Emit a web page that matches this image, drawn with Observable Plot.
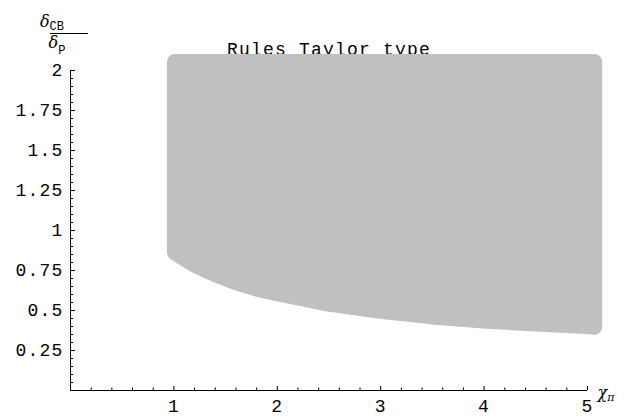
<!DOCTYPE html>
<html><head><meta charset="utf-8">
<script src="https://cdn.jsdelivr.net/npm/d3@7"></script>
<script src="https://cdn.jsdelivr.net/npm/@observablehq/plot@0.6"></script>
<style>body{margin:0;background:#fff}</style>
</head><body><div id="chart"></div>
<script>
const title = "Rules Taylor type";
const xMajor = [1, 2, 3, 4, 5];
const xLabels = ["1", "2", "3", "4", "5"];
const yMajor = [0.25, 0.5, 0.75, 1, 1.25, 1.5, 1.75, 2];
const yLabels = ["0.25", "0.5", "0.75", "1", "1.25", "1.5", "1.75", "2"];
const xMinor = d3.range(0.2, 5.0001, 0.2).filter(v => Math.abs(v - Math.round(v)) > 1e-6);
const yMinor = d3.range(0.05, 2.0001, 0.05).filter(v => Math.abs(v * 4 - Math.round(v * 4)) > 1e-6);

// feasible region (centre line of the rounded outline)
const regionX     = [1.015, 1.2, 1.4, 1.6, 1.8, 2.0, 2.5, 3.0, 3.5, 4.0, 4.5, 5.0, 5.07];
const regionLower = [0.86, 0.785, 0.725, 0.675, 0.635, 0.605, 0.54, 0.495, 0.46, 0.435, 0.415, 0.40, 0.395];
const regionUpper = [2.05, 2.05, 2.05, 2.05, 2.05, 2.05, 2.05, 2.05, 2.05, 2.05, 2.05, 2.05, 2.05];
const region = regionX.map((x, i) => ({x, lo: regionLower[i], hi: regionUpper[i]}));

const gray = "#c0c0c0";
const chart = Plot.plot({
  width: 629, height: 419,
  marginLeft: 70, marginRight: 42, marginTop: 70, marginBottom: 29,
  x: {domain: [0, 5], label: null},
  y: {domain: [0, 2], label: null},
  style: {fontFamily: "'Liberation Mono', monospace", fontSize: "18px", letterSpacing: "1.2px", background: "#fff", color: "#000"},
  marks: [
    Plot.text([title], {frameAnchor: "top", dy: -16, lineAnchor: "bottom", fontSize: 18}),
    Plot.areaY(region, {x: "x", y1: "lo", y2: "hi", fill: gray, stroke: gray, strokeWidth: 16, strokeLinejoin: "round"}),
    Plot.ruleX([0], {y1: 0, y2: 2, stroke: "#000"}),
    Plot.ruleY([0], {x1: 0, x2: 5, stroke: "#000"}),
    Plot.axisY(yMajor, {anchor: "left", tickSize: 0, tickPadding: 7, tickFormat: d => yLabels[yMajor.indexOf(d)], label: null}),
    Plot.axisY(yMajor, {anchor: "left", tickSize: -5, text: null, label: null}),
    Plot.axisY(yMinor, {anchor: "left", tickSize: -3, text: null, label: null}),
    Plot.axisX(xMajor, {anchor: "bottom", tickSize: 0, tickPadding: 9, tickFormat: d => xLabels[xMajor.indexOf(d)], label: null}),
    Plot.axisX(xMajor, {anchor: "bottom", tickSize: -4, text: null, label: null}),
    Plot.axisX(xMinor, {anchor: "bottom", tickSize: -2.5, text: null, label: null})
  ]
});
document.getElementById("chart").appendChild(chart);

const svg = d3.select(chart.tagName === "svg" ? chart : chart.querySelector("svg"));
const g = svg.append("g").attr("fill", "#000").style("letter-spacing", "0px");
// y label fraction  δ_CB / δ_P
const num = g.append("text").attr("x", 52).attr("y", 27);
num.append("tspan").attr("font-family", "'DejaVu Serif', serif").attr("font-style", "italic").attr("font-size", 16).text("δ");
num.append("tspan").attr("font-family", "'Liberation Mono', monospace").attr("font-size", 12).attr("dy", 3).text("CB");
g.append("line").attr("x1", 50).attr("x2", 88).attr("y1", 33.5).attr("y2", 33.5).attr("stroke", "#000").attr("stroke-width", 1);
const den = g.append("text").attr("x", 57).attr("y", 48);
den.append("tspan").attr("font-family", "'DejaVu Serif', serif").attr("font-style", "italic").attr("font-size", 16).text("δ");
den.append("tspan").attr("font-family", "'Liberation Mono', monospace").attr("font-size", 12).attr("dy", 6).text("P");
// x label χ_π
const xl = g.append("text").attr("x", 606).attr("y", 398);
xl.append("tspan").attr("font-family", "'DejaVu Serif', serif").attr("font-style", "italic").attr("font-size", 16).text("χ");
xl.append("tspan").attr("font-family", "'DejaVu Serif', serif").attr("font-style", "italic").attr("font-size", 11).attr("dy", 3).text("π");
</script></body></html>
